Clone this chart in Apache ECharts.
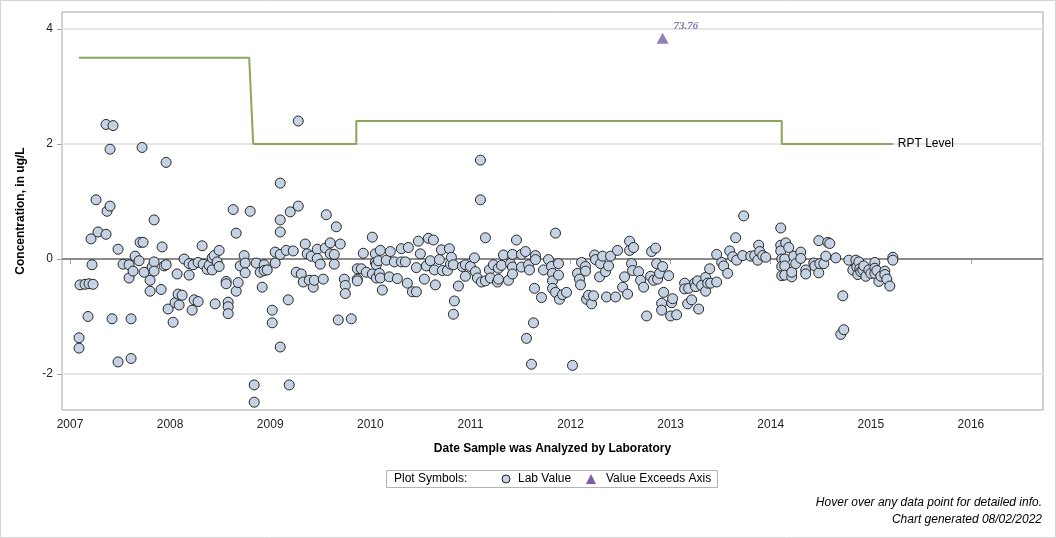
<!DOCTYPE html>
<html>
<head>
<meta charset="utf-8">
<script src="https://cdn.jsdelivr.net/npm/echarts@6/dist/echarts.min.js"></script>
<style>
html, body { margin: 0; padding: 0; background: #fff; }
#main { width: 1056px; height: 538px; }
</style>
</head>
<body>
<div id="main"></div>
<script>
// lab results: [decimal year, concentration ug/L]
var labValues = [
[2007.09,-1.37],[2007.09,-1.55],[2007.10,-0.45],[2007.15,-0.44],[2007.18,-1.00],[2007.19,-0.43],[2007.21,0.35],[2007.22,-0.10],[2007.23,-0.44],[2007.26,1.03],
[2007.28,0.47],[2007.36,2.34],[2007.36,0.43],[2007.37,0.83],[2007.40,1.91],[2007.40,0.92],[2007.42,-1.04],[2007.43,2.32],[2007.48,0.17],[2007.48,-1.79],
[2007.53,-0.09],[2007.59,-0.10],[2007.59,-0.33],[2007.61,-1.04],[2007.61,-1.73],[2007.63,-0.21],[2007.65,0.05],[2007.69,-0.03],[2007.70,0.29],[2007.72,1.94],
[2007.73,0.29],[2007.74,-0.23],[2007.80,-0.37],[2007.80,-0.56],[2007.82,-0.14],[2007.84,0.68],[2007.84,-0.05],[2007.84,-0.21],[2007.91,-0.53],[2007.92,0.21],
[2007.94,-0.12],[2007.96,1.68],[2007.96,-0.10],[2007.98,-0.87],[2008.03,-1.10],[2008.05,-0.76],[2008.07,-0.26],[2008.08,-0.61],[2008.09,-0.80],[2008.12,-0.63],
[2008.14,0.00],[2008.19,-0.28],[2008.19,-0.08],[2008.22,-0.89],[2008.23,-0.10],[2008.24,-0.71],[2008.28,-0.06],[2008.28,-0.74],[2008.32,0.23],[2008.33,-0.09],
[2008.37,-0.18],[2008.39,-0.11],[2008.42,-0.19],[2008.42,0.02],[2008.44,0.06],[2008.45,-0.78],[2008.47,-0.05],[2008.49,0.15],[2008.49,-0.13],[2008.56,-0.39],
[2008.56,-0.43],[2008.58,-0.75],[2008.58,-0.83],[2008.58,-0.95],[2008.63,0.86],[2008.66,0.45],[2008.66,-0.56],[2008.68,-0.41],[2008.70,-0.12],[2008.74,0.06],
[2008.75,-0.07],[2008.75,-0.24],[2008.80,0.83],[2008.84,-2.19],[2008.84,-2.49],[2008.86,-0.07],[2008.90,-0.23],[2008.92,-0.49],[2008.94,-0.10],[2008.94,-0.20],
[2008.97,-0.19],[2009.02,-0.89],[2009.02,-1.11],[2009.05,-0.07],[2009.05,0.12],[2009.10,0.08],[2009.10,0.47],[2009.10,0.68],[2009.10,1.32],[2009.10,-1.53],
[2009.16,0.15],[2009.18,-0.71],[2009.19,-2.19],[2009.20,0.82],[2009.23,0.14],[2009.26,-0.23],[2009.28,2.40],[2009.28,0.92],
[2009.31,-0.26],[2009.33,-0.40],[2009.35,0.26],[2009.37,0.09],[2009.39,-0.37],[2009.41,0.05],[2009.43,-0.49],[2009.44,-0.37],[2009.47,0.17],[2009.47,0.01],
[2009.50,-0.09],[2009.53,-0.35],[2009.55,0.19],[2009.56,0.77],[2009.60,0.28],[2009.60,0.09],[2009.64,0.08],[2009.64,-0.09],[2009.66,0.56],[2009.68,-1.06],
[2009.70,0.26],[2009.74,-0.35],[2009.75,-0.46],[2009.75,-0.60],[2009.81,-1.04],[2009.87,-0.17],[2009.87,-0.35],[2009.87,-0.38],[2009.91,-0.17],[2009.93,0.10],
[2009.96,-0.23],[2010.02,0.38],[2010.02,-0.26],[2010.05,0.09],[2010.05,-0.06],[2010.06,-0.10],[2010.06,-0.33],[2010.08,-0.03],[2010.09,-0.25],[2010.10,0.15],
[2010.10,-0.33],[2010.12,-0.54],[2010.16,-0.02],[2010.19,-0.31],[2010.20,0.13],[2010.24,-0.05],[2010.27,-0.34],[2010.31,0.18],[2010.31,-0.05],[2010.35,-0.05],
[2010.37,-0.42],[2010.38,0.20],[2010.42,-0.57],[2010.46,-0.57],[2010.46,-0.15],[2010.48,0.31],[2010.50,0.09],[2010.54,-0.35],[2010.56,-0.12],[2010.58,0.36],
[2010.60,-0.03],[2010.63,0.33],[2010.64,-0.19],[2010.65,-0.45],[2010.69,-0.01],[2010.71,0.16],[2010.72,-0.20],[2010.77,-0.20],[2010.79,0.18],[2010.80,-0.09],
[2010.81,0.03],[2010.83,-0.10],[2010.83,-0.96],[2010.84,-0.73],[2010.88,-0.47],[2010.92,-0.13],[2010.95,-0.10],[2010.95,-0.30],[2011.00,-0.13],[2011.04,0.02],
[2011.05,-0.22],[2011.07,-0.33],[2011.10,1.72],[2011.10,1.03],[2011.11,-0.40],[2011.15,0.37],[2011.15,-0.38],
[2011.19,-0.19],[2011.20,-0.33],[2011.23,-0.10],[2011.27,-0.40],[2011.28,-0.16],[2011.28,-0.35],[2011.31,-0.11],[2011.33,0.07],[2011.38,-0.37],[2011.40,-0.08],
[2011.42,0.08],[2011.42,-0.14],[2011.42,-0.26],[2011.46,0.33],[2011.51,0.08],[2011.51,-0.14],[2011.55,0.13],[2011.56,-1.38],[2011.58,-0.10],[2011.59,-0.19],
[2011.61,-1.83],[2011.63,-1.11],[2011.64,-0.51],[2011.65,0.06],[2011.65,-0.01],[2011.71,-0.67],[2011.73,-0.19],[2011.78,-0.01],[2011.81,-0.13],[2011.82,-0.25],
[2011.82,-0.38],[2011.82,-0.51],[2011.85,0.45],[2011.85,-0.58],[2011.88,-0.08],[2011.88,-0.28],[2011.89,-0.70],[2011.92,-0.62],[2011.96,-0.58],[2012.02,-1.85],
[2012.07,-0.25],[2012.09,-0.35],[2012.10,-0.45],[2012.11,-0.06],[2012.15,-0.13],[2012.15,-0.21],[2012.16,-0.70],[2012.18,-0.63],[2012.21,-0.78],[2012.23,-0.64],
[2012.24,0.07],[2012.25,-0.01],[2012.29,-0.31],[2012.30,-0.08],[2012.32,0.05],[2012.35,-0.22],[2012.36,-0.66],[2012.38,-0.12],[2012.40,0.05],[2012.45,-0.66],
[2012.47,0.15],[2012.52,-0.49],[2012.54,-0.31],[2012.57,-0.61],[2012.59,0.31],[2012.59,0.15],[2012.61,-0.08],[2012.62,-0.20],[2012.63,0.20],[2012.68,-0.22],
[2012.70,-0.37],[2012.73,-0.49],[2012.76,-0.99],[2012.80,-0.30],[2012.81,0.13],[2012.83,-0.37],[2012.85,0.19],[2012.86,-0.08],[2012.87,-0.35],[2012.89,-0.25],
[2012.91,-0.77],[2012.91,-0.89],[2012.92,-0.13],[2012.93,-0.58],[2012.98,-0.29],[2013.00,-0.99],[2013.01,-0.76],[2013.02,-0.69],[2013.06,-0.97],
[2013.14,-0.42],[2013.14,-0.52],[2013.17,-0.78],[2013.18,-0.51],[2013.21,-0.71],[2013.24,-0.42],[2013.25,-0.48],[2013.27,-0.38],[2013.28,-0.87],[2013.31,-0.46],
[2013.35,-0.56],[2013.35,-0.32],[2013.37,-0.42],[2013.39,-0.17],[2013.40,-0.42],[2013.46,-0.40],[2013.46,0.08],[2013.51,-0.06],[2013.53,-0.12],[2013.57,-0.25],
[2013.59,0.14],[2013.62,0.04],[2013.65,0.37],[2013.66,-0.02],[2013.72,0.06],[2013.73,0.75],[2013.80,0.05],[2013.84,0.06],[2013.87,-0.02],[2013.88,0.24],
[2013.89,0.13],[2013.92,0.06],[2013.95,0.03],[2014.10,0.54],[2014.10,0.24],[2014.10,0.14],[2014.11,0.00],[2014.11,-0.13],[2014.11,-0.29],[2014.14,0.00],
[2014.14,-0.12],[2014.14,-0.28],[2014.15,0.28],[2014.18,0.20],[2014.21,-0.31],[2014.21,-0.23],[2014.23,0.05],[2014.25,-0.08],[2014.30,0.12],[2014.30,0.01],
[2014.35,-0.19],[2014.35,-0.26],[2014.43,-0.07],[2014.44,-0.12],[2014.48,0.32],[2014.48,-0.24],[2014.49,-0.08],[2014.53,-0.08],[2014.55,0.05],[2014.57,0.29],
[2014.59,0.27],[2014.65,0.02],[2014.70,-1.31],[2014.72,-0.64],[2014.73,-1.23],[2014.78,-0.02],[2014.82,-0.19],[2014.85,-0.02],[2014.86,-0.14],[2014.87,-0.27],
[2014.88,-0.05],[2014.89,-0.17],[2014.90,-0.22],[2014.92,-0.19],[2014.93,-0.12],[2014.95,-0.30],[2014.98,-0.19],[2015.00,-0.25],[2015.04,-0.06],[2015.04,-0.16],
[2015.04,-0.25],[2015.06,-0.20],[2015.08,-0.39],[2015.10,-0.30],[2015.14,-0.21],[2015.14,-0.27],[2015.16,-0.35],[2015.19,-0.47],[2015.22,0.03],[2015.22,-0.02]
]

// value above the axis max, drawn at the top with its real value as label
var exceedsAxis = [[2012.92, 3.84]]
var exceedsLabel = '73.76'

// reporting level steps
var rptLevel = [
[2007.09,3.5],[2008.79,3.5],[2008.83,2.0],[2009.86,2.0],[2009.86,2.4],[2014.11,2.4],[2014.11,2.0],[2015.22,2.0]
]

var xTicks = [2007, 2008, 2009, 2010, 2011, 2012, 2013, 2014, 2015, 2016]
var yTicks = [-2, 0, 2, 4]
var gridValues = [4, 2, -2]

var font = '"Liberation Sans", Arial, sans-serif'
var myChart = echarts.init(document.getElementById('main'))

var gridLines = []
for (i = 0; i < gridValues.length; i++) {
    gridLines.push({ yAxis: gridValues[i], lineStyle: { color: '#e6e6e6', width: 2, type: 'solid' } })
}
gridLines.push({ yAxis: 0, lineStyle: { color: '#8c8c8c', width: 2, type: 'solid' } })

option = {
    animation: false,
    backgroundColor: '#fff',
    textStyle: { fontFamily: font },
    grid: {
        left: 62, right: 13, top: 12, bottom: 128,
        show: true, borderColor: '#a6a6a6', borderWidth: 1, backgroundColor: '#fff'
    },
    xAxis: {
        type: 'value',
        min: 2006.92,
        max: 2016.72,
        name: 'Date Sample was Analyzed by Laboratory',
        nameLocation: 'middle',
        nameGap: 33,
        nameTextStyle: { fontSize: 12, fontWeight: 'bold', color: '#000', fontFamily: font },
        axisLine: { show: true, lineStyle: { color: '#a6a6a6' } },
        axisTick: { show: true, customValues: xTicks, length: 5, lineStyle: { color: '#a6a6a6' } },
        axisLabel: { customValues: xTicks, margin: 9, fontSize: 12, color: '#222', formatter: function (v) { return String(Math.round(v)) } },
        splitLine: { show: false }
    },
    yAxis: {
        type: 'value',
        min: -2.626,
        max: 4.296,
        name: 'Concentration, in ug/L',
        nameLocation: 'middle',
        nameGap: 35,
        nameTextStyle: { fontSize: 12, fontWeight: 'bold', color: '#000', fontFamily: font },
        axisLine: { show: false },
        axisTick: { show: true, customValues: yTicks, length: 5, lineStyle: { color: '#a6a6a6' } },
        axisLabel: { customValues: yTicks, margin: 9, fontSize: 12, color: '#222' },
        splitLine: { show: false }
    },
    series: [
        {
            type: 'line',
            name: 'RPT Level',
            data: rptLevel,
            symbol: 'none',
            lineStyle: { color: '#8aa65a', width: 2 },
            z: 2,
            endLabel: { show: true, formatter: 'RPT Level', color: '#000', fontSize: 12, distance: 5, fontFamily: font },
            markLine: {
                silent: true,
                symbol: 'none',
                label: { show: false },
                z: 1,
                data: gridLines
            }
        },
        {
            type: 'scatter',
            name: 'Lab Value',
            data: labValues,
            symbol: 'circle',
            symbolSize: 10,
            itemStyle: { color: '#c5d2e4', borderColor: '#262626', borderWidth: 1, opacity: 1 },
            z: 3
        },
        {
            type: 'scatter',
            name: 'Value Exceeds Axis',
            data: exceedsAxis,
            symbol: 'triangle',
            symbolSize: [12, 11],
            itemStyle: { color: '#7b5ea5' },
            label: {
                show: true,
                formatter: exceedsLabel,
                position: 'right',
                distance: 5,
                offset: [0, -12],
                color: '#6a4e9c',
                fontFamily: '"Liberation Serif", "DejaVu Serif", serif',
                fontStyle: 'italic',
                fontWeight: 'bold',
                fontSize: 11
            },
            z: 3
        }
    ],
    graphic: [
        { type: 'rect', shape: { x: 0.5, y: 0.5, width: 1055, height: 537 }, style: { fill: 'none', stroke: '#d4d4d4', lineWidth: 1 }, silent: true },
        { type: 'rect', shape: { x: 386.5, y: 470.5, width: 331, height: 17 }, style: { fill: '#fff', stroke: '#b4b4b4', lineWidth: 1 }, silent: true },
        { type: 'text', x: 394, y: 479, style: { text: 'Plot Symbols:', fill: '#000', font: '12px ' + font, verticalAlign: 'middle' } },
        { type: 'circle', shape: { cx: 506, cy: 479, r: 4 }, style: { fill: '#c5d2e4', stroke: '#262626', lineWidth: 1 } },
        { type: 'text', x: 518, y: 479, style: { text: 'Lab Value', fill: '#000', font: '12px ' + font, verticalAlign: 'middle' } },
        { type: 'polygon', shape: { points: [[586, 484], [596, 484], [591, 474]] }, style: { fill: '#7b5ea5' } },
        { type: 'text', x: 606, y: 479, style: { text: 'Value Exceeds Axis', fill: '#000', font: '12px ' + font, verticalAlign: 'middle' } },
        { type: 'text', x: 1042, y: 503, style: { text: 'Hover over any data point for detailed info.', fill: '#000', font: 'italic 12px ' + font, align: 'right', verticalAlign: 'middle' } },
        { type: 'text', x: 1042, y: 520, style: { text: 'Chart generated 08/02/2022', fill: '#000', font: 'italic 12px ' + font, align: 'right', verticalAlign: 'middle' } }
    ]
}
myChart.setOption(option)
</script>
</body>
</html>
